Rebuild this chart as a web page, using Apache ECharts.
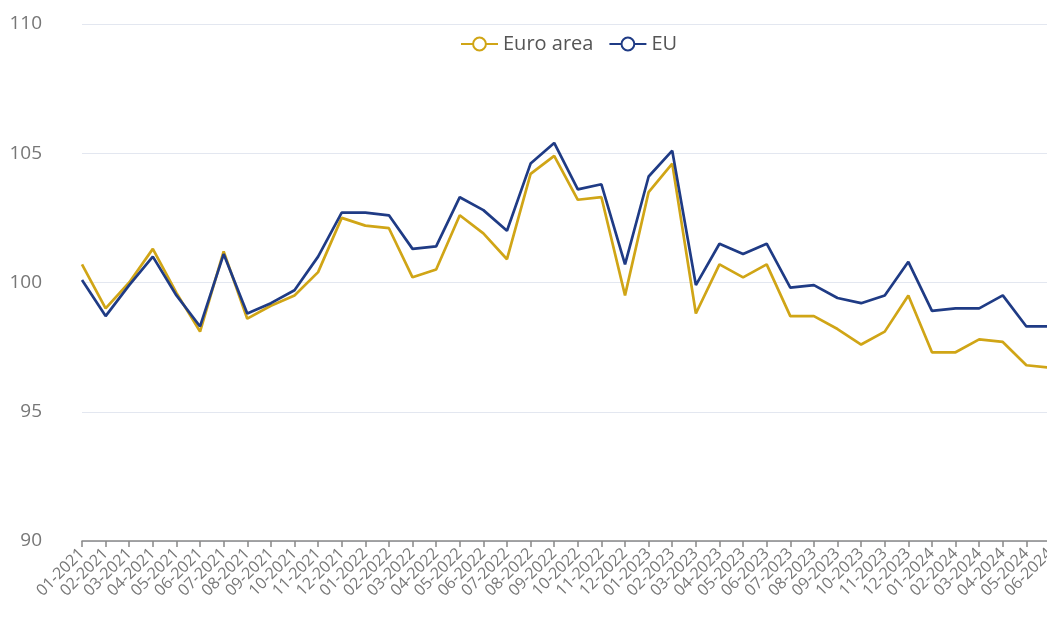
<!DOCTYPE html>
<html>
<head>
<meta charset="utf-8">
<script src="https://cdn.jsdelivr.net/npm/echarts@6/dist/echarts.min.js"></script>
<style>html,body{margin:0;padding:0;background:#fff}#c{width:1047px;height:620px}</style>
</head>
<body>
<div id="c"></div>
<script>
const categories = ["01-2021","02-2021","03-2021","04-2021","05-2021","06-2021","07-2021","08-2021","09-2021","10-2021","11-2021","12-2021",
"01-2022","02-2022","03-2022","04-2022","05-2022","06-2022","07-2022","08-2022","09-2022","10-2022","11-2022","12-2022",
"01-2023","02-2023","03-2023","04-2023","05-2023","06-2023","07-2023","08-2023","09-2023","10-2023","11-2023","12-2023",
"01-2024","02-2024","03-2024","04-2024","05-2024","06-2024"];
const euroArea = [100.7,99.0,100.0,101.3,99.6,98.1,101.2,98.6,99.1,99.5,100.4,102.5,
102.2,102.1,100.2,100.5,102.6,101.9,100.9,104.2,104.9,103.2,103.3,99.5,
103.5,104.6,98.8,100.7,100.2,100.7,98.7,98.7,98.2,97.6,98.1,99.5,
97.3,97.3,97.8,97.7,96.8,96.7];
const eu = [100.1,98.7,99.9,101.0,99.5,98.3,101.1,98.8,99.2,99.7,101.0,102.7,
102.7,102.6,101.3,101.4,103.3,102.8,102.0,104.6,105.4,103.6,103.8,100.7,
104.1,105.1,99.9,101.5,101.1,101.5,99.8,99.9,99.4,99.2,99.5,100.8,
98.9,99.0,99.0,99.5,98.3,98.3];
const yTicks = {min:90, max:110, interval:5};

const chart = echarts.init(document.getElementById('c'), null, {renderer:'canvas'});
const font = "'Open Sans', 'Liberation Sans', sans-serif";
chart.setOption({
  animation:false,
  color:['#d0a516','#1f3b85'],
  legend:{
    top:29, left:455,
    itemWidth:37, itemHeight:16, itemGap:15,
    textStyle:{fontFamily:font, fontSize:20, color:'#555'},
    data:['Euro area','EU']
  },
  grid:{left:82, right:-3, top:24, bottom:79, containLabel:false, outerBoundsMode:'none'},
  xAxis:{
    type:'category', data:categories, boundaryGap:false,
    axisLine:{lineStyle:{color:'#888', width:1.5}},
    axisTick:{show:true, alignWithLabel:true, length:6, lineStyle:{color:'#888', width:1.5}},
    axisLabel:{rotate:45, interval:0, fontFamily:font, fontSize:16, color:'#777', margin:10}
  },
  yAxis:{
    type:'value', min:yTicks.min, max:yTicks.max, interval:yTicks.interval,
    axisLine:{show:false}, axisTick:{show:false},
    axisLabel:{fontFamily:font, fontSize:19, color:'#777', margin:40},
    splitLine:{lineStyle:{color:'#e3e7f0', width:1}}
  },
  series:[
    {name:'Euro area', type:'line', data:euroArea, symbol:'emptyCircle', symbolSize:12, showSymbol:false, lineStyle:{width:2.7}},
    {name:'EU', type:'line', data:eu, symbol:'emptyCircle', symbolSize:12, showSymbol:false, lineStyle:{width:2.7}}
  ]
});
</script>
</body>
</html>
